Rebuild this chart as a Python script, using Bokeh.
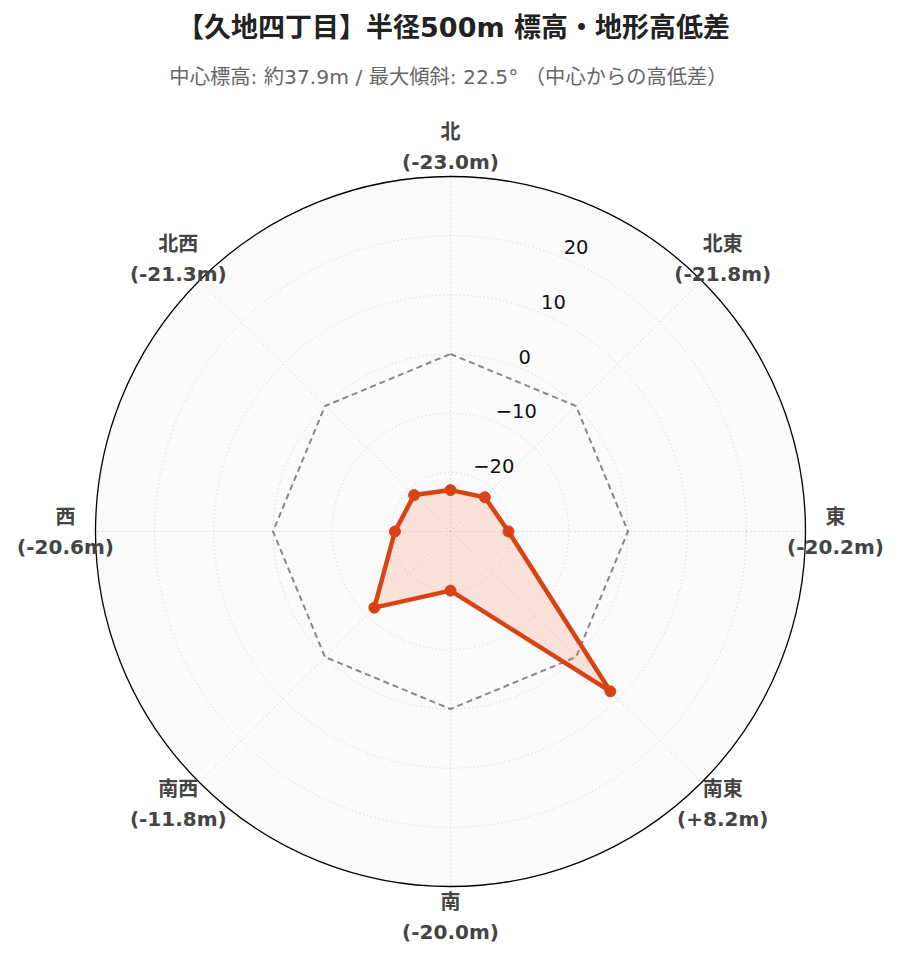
import math
from bokeh.plotting import figure
from bokeh.models import Range1d
from bokeh.core.properties import value
from bokeh.embed import file_html
from bokeh.resources import INLINE

# ---- data ----
directions = ["北", "北東", "東", "南東", "南", "南西", "西", "北西"]
angles_deg = [0, 45, 90, 135, 180, 225, 270, 315]
diffs = [-23.0, -21.8, -20.2, 8.2, -20.0, -11.8, -20.6, -21.3]
reference = [0, 0, 0, 0, 0, 0, 0, 0]
tick_values = [-20, -10, 0, 10, 20]
tick_labels = ["\u221220", "\u221210", "0", "10", "20"]
title_text = "【久地四丁目】半径500m 標高・地形高低差"
subtitle_text = "中心標高: 約37.9m / 最大傾斜: 22.5° （中心からの高低差）"
RMIN, RMAX = -30, 30

# ---- layout ----
W, H = 883, 946
CX, CY = 450, 531          # centre in frame pixels (from left / from top)
R_OUT = 355
FONT = "DejaVu Sans, Noto Sans CJK JP"

def rad(v):
    return (v - RMIN) / (RMAX - RMIN) * R_OUT

def pol(v, a):
    r = rad(v)
    t = math.radians(a)
    return r * math.sin(t), r * math.cos(t)

p = figure(width=W, height=H, output_backend="svg", toolbar_location=None,
           x_range=Range1d(-CX, W - CX), y_range=Range1d(-(H - CY), CY),
           min_border=0, outline_line_color=None, background_fill_color="white",
           border_fill_color="white")
p.axis.visible = False
p.grid.visible = False

# polar background
p.circle(x=[0], y=[0], radius=[R_OUT], fill_color="#fafafa", line_color=None)

# circular grid
for v in tick_values:
    p.circle(x=[0], y=[0], radius=[rad(v)], fill_color=None,
             line_color="#cccccc", line_width=1, line_dash="1 3")
# angular grid
ex = [R_OUT * math.sin(math.radians(a)) for a in angles_deg]
ey = [R_OUT * math.cos(math.radians(a)) for a in angles_deg]
p.segment(x0=[0] * 8, y0=[0] * 8, x1=ex, y1=ey, line_color="#cccccc",
          line_width=1, line_dash="1 3")

# outer circle
p.circle(x=[0], y=[0], radius=[R_OUT], fill_color=None, line_color="black", line_width=1.3)

# reference (0 m) dashed octagon
rx = [pol(v, a)[0] for v, a in zip(reference, angles_deg)]
ry = [pol(v, a)[1] for v, a in zip(reference, angles_deg)]
p.line(rx + rx[:1], ry + ry[:1], line_color="#888888", line_width=2, line_dash="6 4")

# data polygon
dx = [pol(v, a)[0] for v, a in zip(diffs, angles_deg)]
dy = [pol(v, a)[1] for v, a in zip(diffs, angles_deg)]
p.patch(dx, dy, fill_color="#ff5722", fill_alpha=0.15, line_color=None)
p.line(dx + dx[:1], dy + dy[:1], line_color="#d84315", line_width=4.5, line_join="round")
p.scatter(dx, dy, size=11, fill_color="#d84315", line_color="#d84315")

# radial tick labels
tx = [pol(v, 22.5)[0] for v in tick_values]
ty = [pol(v, 22.5)[1] for v in tick_values]
p.text(tx, ty, text=tick_labels, text_align="left", text_baseline="bottom",
       text_font=value(FONT), text_font_size="19.5px", text_color="#111111", y_offset=-4)

# direction labels
LR = 385
lx = [LR * math.sin(math.radians(a)) for a in angles_deg]
ly = [LR * math.cos(math.radians(a)) for a in angles_deg]
vals = ["(%+.1fm)" % v if v > 0 else "(%.1fm)" % v for v in diffs]
p.text(lx, ly, text=directions, text_align="center", text_baseline="middle",
       text_font=value(FONT), text_font_style="bold", text_font_size="20px",
       text_color="#444444", y_offset=-15)
p.text(lx, ly, text=vals, text_align="center", text_baseline="middle",
       text_font=value(FONT), text_font_style="bold", text_font_size="20px",
       text_color="#444444", y_offset=15)

# titles
p.text([3], [CY - 27], text=[title_text], text_align="center", text_baseline="middle",
       text_font=value(FONT), text_font_style="bold", text_font_size="27px",
       text_color="#222222")
p.text([-2], [CY - 76], text=[subtitle_text], text_align="center", text_baseline="middle",
       text_font=value(FONT), text_font_size="20.3px", text_color="#666666")

open("out.html", "w").write(file_html(p, INLINE))
